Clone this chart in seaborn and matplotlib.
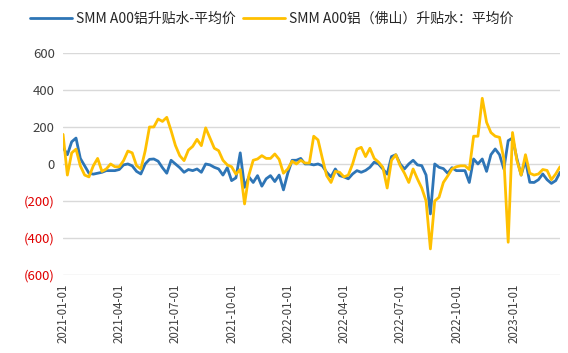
import matplotlib
matplotlib.use("Agg")
import matplotlib.pyplot as plt
import pandas as pd
import seaborn as sns

# weekly readings, 2021-01-01 onwards
dates = pd.date_range("2021-01-01", periods=116, freq="7D")

blue = [90, 50, 120, 140, 30, -10, -50, -55, -50, -45,
        -36, -36, -36, -30, -5, 0, -10, -40, -54, 0,
        25, 27, 15, -20, -50, 20, 0, -20, -45, -30,
        -36, -27, -45, 0, -5, -18, -27, -60, -20, -90,
        -75, 60, -126, -70, -100, -63, -120, -80, -63, -95,
        -60, -140, -50, 20, 20, 30, 0, 0, -5, 0,
        -10, -45, -70, -27, -63, -70, -80, -54, -36, -45,
        -35, -18, 10, 0, -27, -55, 40, 50, 0, -27,
        0, 20, -5, -9, -60, -270, 0, -18, -25, -50,
        -20, -36, -36, -36, -100, 27, 0, 27, -40, 50,
        81, 50, -27, 126, 140, 30, -60, 20, -99, -100,
        -85, -54, -85, -105, -90, -45]

yellow = [160, -60, 60, 80, -10, -60, -70, -10, 30, -40,
          -27, 0, -15, -15, 18, 70, 60, -9, -27, 70,
          200, 200, 243, 230, 252, 180, 100, 45, 18, 75,
          95, 133, 99, 195, 140, 85, 72, 20, -5, -15,
          -55, -30, -216, -60, 20, 27, 45, 30, 30, 54,
          25, -50, -27, 15, 0, 20, 5, 5, 150, 130,
          30, -63, -100, -40, -45, -70, -60, 0, 80, 90,
          40, 85, 30, 10, -18, -130, 20, 50, -9, -50,
          -100, -27, -81, -130, -200, -459, -200, -180, -100, -65,
          -27, -15, -10, -10, -30, 150, 150, 355, 225, 170,
          150, 144, 27, -423, 170, 20, -60, 50, -50, -60,
          -54, -30, -35, -85, -54, -15]

name_blue = "SMM A00铝升贴水-平均价"
name_yellow = "SMM A00铝（佛山）升贴水：平均价"

df = pd.concat([
    pd.DataFrame({"date": dates, "value": blue, "series": name_blue}),
    pd.DataFrame({"date": dates, "value": yellow, "series": name_yellow}),
])

sns.set_style("white")
plt.rcParams["font.family"] = ["Noto Sans CJK SC", "DejaVu Sans"]

fig = plt.figure(figsize=(5.68, 3.53), dpi=100)
ax = fig.add_axes([0.111, 0.221, 0.875, 0.629])

sns.lineplot(data=df, x="date", y="value", hue="series",
             palette=["#2E75B6", "#FFC000"], linewidth=2, ax=ax)

ax.set_ylim(-600, 600)
ax.set_yticks(range(-600, 601, 200))
ylabels = []
for t in range(-600, 601, 200):
    ylabels.append(f"({abs(t)})" if t < 0 else str(t))
ax.set_yticklabels(ylabels, fontsize=9.5)
for lab, t in zip(ax.get_yticklabels(), range(-600, 601, 200)):
    lab.set_color("#E00000" if t < 0 else "#404040")

ax.set_xlim(dates[0], dates[-1])
qticks = pd.date_range("2021-01-01", "2023-01-01", freq="QS")
ax.set_xticks(qticks)
ax.set_xticklabels([d.strftime("%Y-%m-%d") for d in qticks],
                   rotation=90, fontsize=8.3, color="#404040")

ax.grid(axis="y", color="#D9D9D9", linewidth=1)
ax.tick_params(axis="both", length=0, pad=6)
ax.set_xlabel("")
ax.set_ylabel("")
for s in ax.spines.values():
    s.set_visible(False)

ax.legend(loc="upper center", bbox_to_anchor=(0.42, 1.24), ncol=2,
          frameon=False, fontsize=10, handlelength=3, columnspacing=0.5,
          handletextpad=0.3)

plt.savefig("out.png", dpi=100)
